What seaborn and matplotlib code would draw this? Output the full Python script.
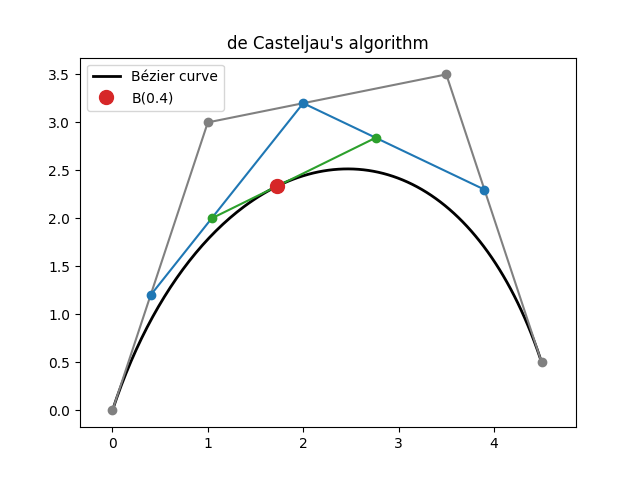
import matplotlib
matplotlib.use("Agg")
import matplotlib.pyplot as plt
import numpy as np
import pandas as pd
import seaborn as sns

# control polygon
ctrl_x = [0.0, 1.0, 3.5, 4.5]
ctrl_y = [0.0, 3.0, 3.5, 0.5]
# first level interpolation at t = 0.4
lvl1_x = [0.4, 2.0, 3.9]
lvl1_y = [1.2, 3.2, 2.3]
# second level
lvl2_x = [1.04, 2.76]
lvl2_y = [2.0, 2.84]
# point on curve
pt_x = [1.728]
pt_y = [2.336]
T_VALUE = 0.4


def bezier(xs, ys, n=200):
    t = np.linspace(0, 1, n)
    px = ((1 - t) ** 3) * xs[0] + 3 * ((1 - t) ** 2) * t * xs[1] + 3 * (1 - t) * t**2 * xs[2] + t**3 * xs[3]
    py = ((1 - t) ** 3) * ys[0] + 3 * ((1 - t) ** 2) * t * ys[1] + 3 * (1 - t) * t**2 * ys[2] + t**3 * ys[3]
    return pd.DataFrame({"x": px, "y": py})


plt.style.use("default")
fig, ax = plt.subplots(figsize=(6.4, 4.8), dpi=100)

curve = bezier(ctrl_x, ctrl_y)
sns.lineplot(data=curve, x="x", y="y", sort=False, color="black", linewidth=2,
             label="Bézier curve", ax=ax)
ax.plot(ctrl_x, ctrl_y, "o-", color="gray")
ax.plot(lvl1_x, lvl1_y, "o-", color="tab:blue")
ax.plot(lvl2_x, lvl2_y, "o-", color="tab:green")
ax.plot(pt_x, pt_y, "o", color="tab:red", markersize=10, label=f"B({T_VALUE})", zorder=5)

ax.set_xlim(-0.34, 4.86)
ax.set_title("de Casteljau's algorithm")
ax.set_xlabel("")
ax.set_ylabel("")
ax.legend(loc="upper left")

fig.savefig("out.png", dpi=100)
